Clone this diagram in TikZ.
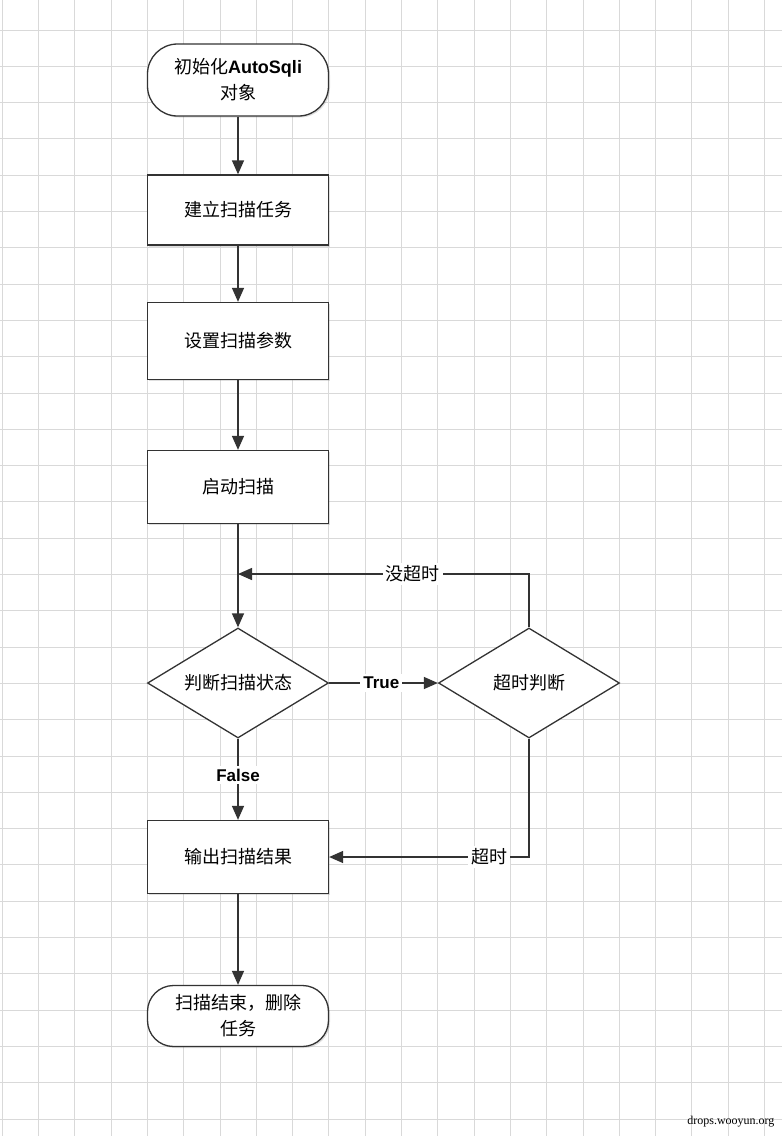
\documentclass[tikz,border=0pt]{standalone}
\usepackage{fontspec}
\setmainfont{Noto Sans CJK SC}
\newfontfamily\lat{Liberation Sans}
\newfontfamily\wm{Liberation Serif}
\usetikzlibrary{shapes.geometric,arrows.meta,shadows}
\begin{document}
\begin{tikzpicture}[x=1pt,y=-1pt,
 box/.style={draw=black!80,fill=white,line width=1.3pt,minimum width=181pt,drop shadow={shadow xshift=1.5pt,shadow yshift=-1.5pt,opacity=0.25},font=\fontsize{18}{26}\selectfont},
 term/.style={box,rounded corners=30pt,align=center},
 dia/.style={draw=black!80,fill=white,line width=1.3pt,diamond,aspect=1.65,minimum width=181pt,minimum height=110pt,inner sep=0pt,font=\fontsize{18}{24}\selectfont},
 ar/.style={-{Triangle[length=14pt,width=12pt]},line width=1.4pt,draw=black!80},
 lab/.style={fill=white,inner sep=3pt,font=\fontsize{18}{24}\selectfont},
 blab/.style={fill=white,inner sep=3pt,font=\lat\bfseries\fontsize{17}{20}\selectfont}]
\useasboundingbox (0,0) rectangle (782,1136);
\fill[white] (0,0) rectangle (782,1136);
\foreach \i in {0,...,21} \draw[black!15,line width=1pt] (2.2+36.3*\i,0) -- (2.2+36.3*\i,1136);
\foreach \i in {0,...,31} \draw[black!15,line width=1pt] (0,-6.3+36.3*\i) -- (782,-6.3+36.3*\i);
\node[term,minimum height=72pt] (s) at (238,80) {初始化{\lat\bfseries AutoSqli}\\对象};
\node[box,minimum height=70pt] (b1) at (238,210) {建立扫描任务};
\node[box,minimum height=77pt] (b2) at (238,341) {设置扫描参数};
\node[box,minimum height=73pt] (b3) at (238,487) {启动扫描};
\node[dia] (d1) at (238,683) {判断扫描状态};
\node[dia] (d2) at (529,683) {超时判断};
\node[box,minimum height=73pt] (b4) at (238,857) {输出扫描结果};
\node[term,minimum height=61pt,rounded corners=26pt] (e) at (238,1016) {扫描结束，删除\\任务};
\coordinate (j) at (238,574);
\draw[ar] (s) -- (b1);
\draw[ar] (b1) -- (b2);
\draw[ar] (b2) -- (b3);
\draw[ar] (b3) -- (d1);
\draw[ar] (d1) -- node[blab,pos=0.48]{True} (d2);
\draw[ar] (d1) -- node[blab,pos=0.45]{False} (b4);
\draw[ar] (b4) -- (e);
\draw[ar] (d2.north) |- node[lab,pos=0.70]{没超时} (j);
\draw[ar] (d2.south) |- node[lab,pos=0.6]{超时} (b4.east);
\node[font=\wm\fontsize{12}{14}\selectfont,anchor=east] (w) at (778,1122) {drops.wooyun.org};
\end{tikzpicture}
\end{document}
